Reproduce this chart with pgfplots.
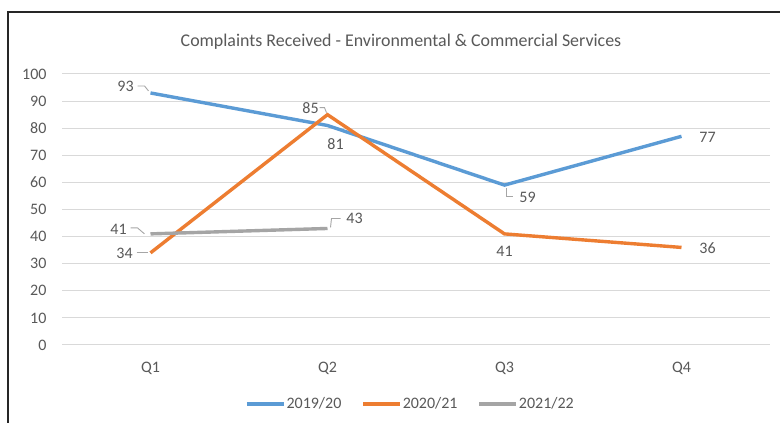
\documentclass[border=0pt]{standalone}
\usepackage{pgfplots}
\pgfplotsset{compat=1.18}
\usepackage{fontspec}
\setmainfont{Carlito}
\definecolor{cblue}{HTML}{5B9BD5}
\definecolor{corange}{HTML}{ED7D31}
\definecolor{cgray}{HTML}{A5A5A5}
\definecolor{ctext}{HTML}{595959}
\definecolor{cgrid}{HTML}{D9D9D9}
\definecolor{clead}{HTML}{A6A6A6}
\begin{document}
\begin{tikzpicture}[x=1pt,y=1pt]
\useasboundingbox (0pt,0pt) rectangle (780pt,423pt);
\fill[white] (0pt,0pt) rectangle (780pt,423pt);
\draw[line width=2pt,black!85] (8pt,0pt) -- (8pt,411pt) -- (780pt,411pt);
\node[font=\fontsize{17.9}{20}\selectfont,text=ctext] at (401pt,381pt) {Complaints Received - Environmental \& Commercial Services};
\begin{axis}[
  at={(62pt,78pt)}, anchor=south west,
  scale only axis, width=708pt, height=271pt,
  xmin=0, xmax=4, ymin=0, ymax=100,
  xtick={0.5,1.5,2.5,3.5}, xticklabels={Q1,Q2,Q3,Q4},
  ytick={0,10,...,100},
  ymajorgrids, grid style={cgrid, line width=1pt},
  axis line style={draw=none},
  tick style={draw=none},
  ticklabel style={font=\fontsize{16}{18}\selectfont, text=ctext},
  yticklabel style={xshift=-12pt},
  xticklabel style={yshift=-14pt},
  /pgf/number format/assume math mode=true,
  clip=false,
  legend columns=3,
  legend style={draw=none, fill=none, at={(rel axis cs:0.4915,-0.2177)}, anchor=center,
    font=\fontsize{16}{18}\selectfont, text=ctext,
    nodes={inner sep=1pt},
    /tikz/every even column/.append style={column sep=19pt},
    inner sep=0pt},
  legend image code/.code={\draw[#1, line width=3.4pt] (0pt,0pt) -- (37pt,0pt);},
  nodes near coords,
  point meta=explicit symbolic,
  every node near coord/.append style={font=\fontsize{16}{18}\selectfont, text=ctext, anchor=center, xshift=\dx pt, yshift=\dy pt},
  visualization depends on={\thisrow{dx}\as\dx},
  visualization depends on={\thisrow{dy}\as\dy},
]
\addplot[cblue, line width=3.4pt, mark=none] table[x=x, y=y, meta=y] {
x y dx dy
0.5 93 -25 7
1.5 81 8 -18.5
2.5 59 23 -12
3.5 77 26 -1
};
\addlegendentry{2019/20}
\addplot[corange, line width=3.4pt, mark=none] table[x=x, y=y, meta=y] {
x y dx dy
0.5 34 -26 -1
1.5 85 -17 7
2.5 41 0 -17
3.5 36 26 -1
};
\addlegendentry{2020/21}
\addplot[cgray, line width=3.4pt, mark=none] table[x=x, y=y, meta=y] {
x y dx dy
0.5 41 -32 5
1.5 43 27 10
};
\addlegendentry{2021/22}
\draw[clead, line width=0.9pt] ([xshift=-13pt,yshift=7pt]axis cs:0.5,93) -- ([xshift=-6pt,yshift=7pt]axis cs:0.5,93) -- ([xshift=-2pt,yshift=2pt]axis cs:0.5,93);
\draw[clead, line width=0.9pt] ([xshift=-8pt,yshift=7pt]axis cs:1.5,85) -- ([xshift=-3pt,yshift=7pt]axis cs:1.5,85) -- ([xshift=-1pt,yshift=2pt]axis cs:1.5,85);
\draw[clead, line width=0.9pt] ([xshift=2pt,yshift=-3pt]axis cs:2.5,59) -- ([xshift=2pt,yshift=-11pt]axis cs:2.5,59) -- ([xshift=8pt,yshift=-11pt]axis cs:2.5,59);
\draw[clead, line width=0.9pt] ([xshift=-14pt]axis cs:0.5,34) -- ([xshift=-3pt]axis cs:0.5,34);
\draw[clead, line width=0.9pt] ([xshift=-20pt,yshift=6pt]axis cs:0.5,41) -- ([xshift=-13pt,yshift=6pt]axis cs:0.5,41) -- ([xshift=-6pt,yshift=0pt]axis cs:0.5,41);
\draw[clead, line width=0.9pt] ([xshift=3pt,yshift=1pt]axis cs:1.5,43) -- ([xshift=4pt,yshift=10pt]axis cs:1.5,43) -- ([xshift=13pt,yshift=10pt]axis cs:1.5,43);
\end{axis}
\end{tikzpicture}
\end{document}
